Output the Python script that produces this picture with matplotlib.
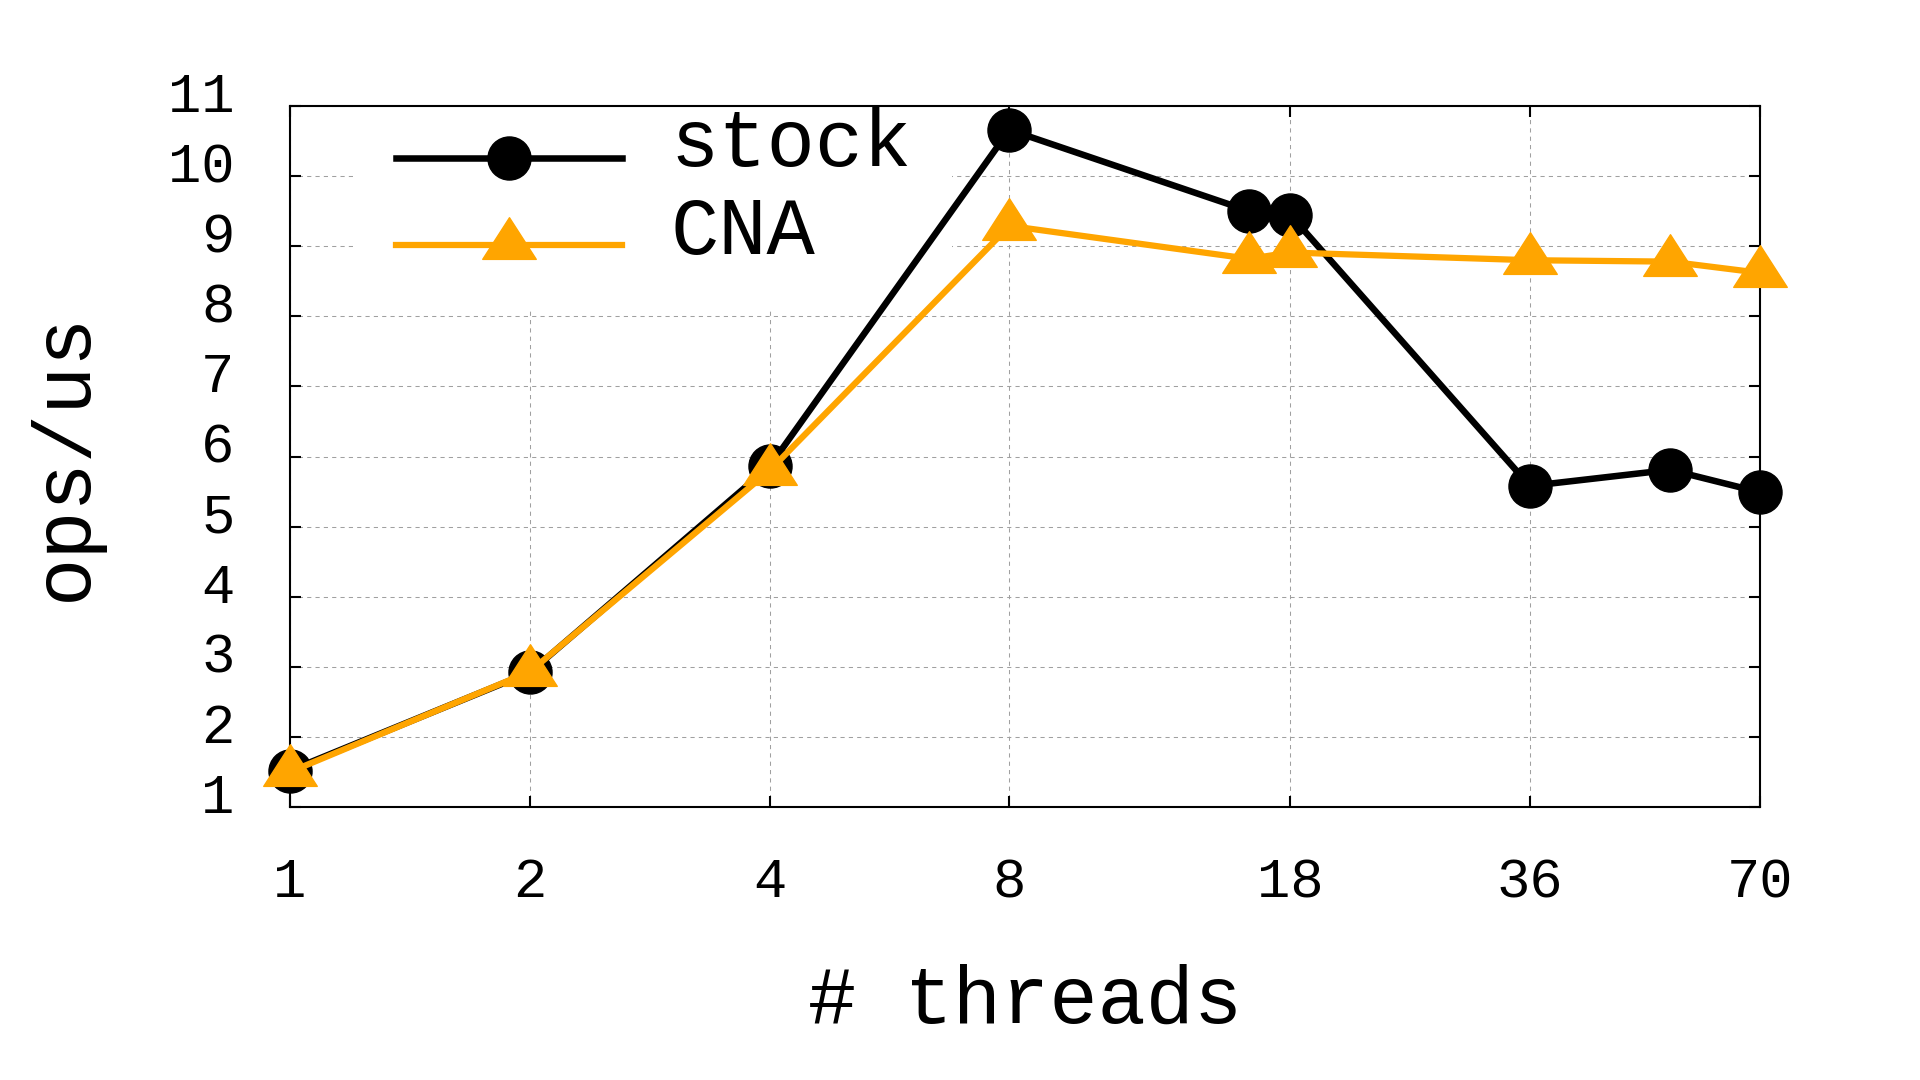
import matplotlib
matplotlib.use('Agg')
import numpy as np
import matplotlib.pyplot as plt
from matplotlib.path import Path
from matplotlib.transforms import ScaledTranslation
from matplotlib.legend_handler import HandlerLine2D

# data
threads = [1, 2, 4, 8, 16, 18, 36, 54, 70]
stock = [1.52, 2.92, 5.86, 10.66, 9.50, 9.45, 5.58, 5.81, 5.49]
cna = [1.50, 2.93, 5.80, 9.29, 8.82, 8.91, 8.80, 8.78, 8.62]
xticks = [1, 2, 4, 8, 18, 36, 70]
yticks = list(range(1, 12))

plt.rcParams['font.family'] = ['Liberation Mono', 'DejaVu Sans Mono']

# gnuplot-like filled triangle, centroid on the data point
tri = Path([(-27, -14), (27, -14), (0, 28), (-27, -14)],
           [Path.MOVETO, Path.LINETO, Path.LINETO, Path.CLOSEPOLY])


##gnuplot puts the key sample a bit below the text, so push handles down
def lower_handle(legend_handle, orig_handle):
    legend_handle.update_from(orig_handle)
    legend_handle.set_ydata(np.asarray(legend_handle.get_ydata()) - 14.4)


fig = plt.figure(figsize=(19.2, 10.8), dpi=100)
ax = fig.add_axes([290/1920, 1-807/1080, 1470/1920, 701/1080])

l1, = ax.plot(threads, stock, color='black', lw=4.7, marker='o', ms=31,
              label='stock', clip_on=False, zorder=3)
l2, = ax.plot(threads, cna, color='#ffa500', lw=4.5, marker=tri, ms=40,
              label='CNA', clip_on=False, zorder=4)

ax.set_xscale('log', base=2)
ax.set_xlim(1, 70)
ax.set_ylim(1, 11)
ax.set_xticks(xticks)
ax.set_xticklabels([str(t) for t in xticks])
ax.minorticks_off()
ax.set_yticks(yticks)

ax.grid(True, color='#a0a0a0', lw=0.75, ls=(0, (4, 4)))
ax.set_axisbelow(True)
for s in ax.spines.values():
    s.set_linewidth(1.5)

ax.tick_params(direction='in', length=8, width=1.5, top=True, right=True,
               labelsize=40)
ax.tick_params(axis='x', pad=36)
ax.tick_params(axis='y', pad=40)
for lab in ax.get_yticklabels():
    lab.set_transform(lab.get_transform() + ScaledTranslation(0, 0.14, fig.dpi_scale_trans))

ax.set_xlabel('# threads', fontsize=58)
ax.xaxis.label.set_va('baseline')
ax.xaxis.set_label_coords(0.5, -(1023-807)/701)
ax.set_ylabel('ops/us', fontsize=58)
ax.yaxis.label.set_va('center')
ax.yaxis.set_label_coords((65-290)/1470, 0.5)

hmap = {l1: HandlerLine2D(update_func=lower_handle),
        l2: HandlerLine2D(update_func=lower_handle)}
leg = ax.legend(loc='upper left', bbox_to_anchor=(356/1920, 1-67/1080),
                bbox_transform=fig.transFigure, fontsize=58, frameon=True,
                facecolor='white', edgecolor='none', framealpha=1,
                fancybox=False, borderaxespad=0, borderpad=0.5,
                handlelength=2.8, handletextpad=0.6, labelspacing=0.14,
                handler_map=hmap)
# white legend box sits over the grid but under the frame and the curves
leg.set_zorder(2.4)

fig.savefig('out.png', dpi=100)
